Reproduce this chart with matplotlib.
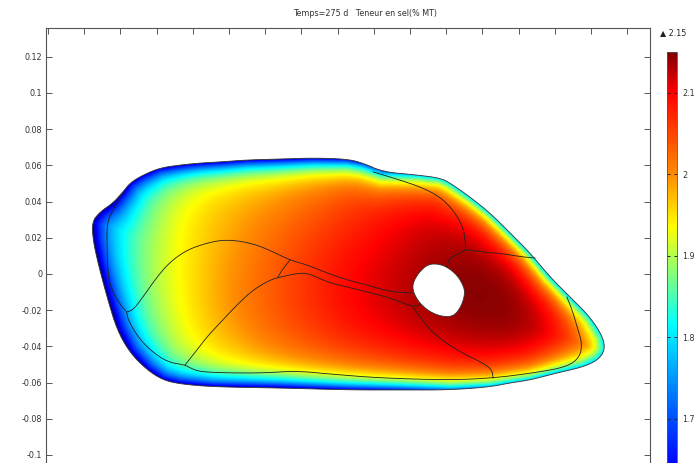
import numpy as np
import matplotlib.pyplot as plt
from matplotlib.path import Path
from matplotlib.patches import PathPatch
from matplotlib.colors import LinearSegmentedColormap, Normalize
from matplotlib.ticker import FuncFormatter, MultipleLocator

# outer contour of the ham cross-section (m), with surface salt content (% MT)
outer_x = [0.0243, 0.0287, 0.0359, 0.0414, 0.0453, 0.0525, 0.0619, 0.0729, 0.0840, 0.0950,
           0.1099, 0.1282, 0.1464, 0.1652, 0.1740, 0.1851, 0.2039, 0.2166, 0.2221, 0.2332,
           0.2442, 0.2553, 0.2663, 0.2774, 0.2884, 0.2995, 0.3066, 0.3077, 0.3039, 0.2956,
           0.2812, 0.2663, 0.2553, 0.2442, 0.2221, 0.1945, 0.1669, 0.1282, 0.0912, 0.0729,
           0.0635, 0.0547, 0.0453, 0.0381, 0.0326, 0.0276, 0.0249]
outer_y = [0.0287, 0.0343, 0.0392, 0.0453, 0.0503, 0.0547, 0.0586, 0.0602, 0.0613, 0.0619,
           0.0630, 0.0635, 0.0641, 0.0635, 0.0613, 0.0564, 0.0547, 0.0530, 0.0503, 0.0425,
           0.0337, 0.0227, 0.0116, -0.0017, -0.0127, -0.0238, -0.0348, -0.0420, -0.0475, -0.0514,
           -0.0547, -0.0586, -0.0602, -0.0624, -0.0641, -0.0641, -0.0641, -0.0630, -0.0624, -0.0608,
           -0.0586, -0.0530, -0.0436, -0.0309, -0.0127, 0.0061, 0.0188]
surface_salt = [1.56, 1.57, 1.58, 1.59, 1.60, 1.60, 1.60, 1.60, 1.60, 1.60,
                1.60, 1.60, 1.60, 1.62, 1.66, 1.72, 1.77, 1.78, 1.78, 1.78,
                1.78, 1.78, 1.78, 1.78, 1.78, 1.78, 1.78, 1.78, 1.78, 1.78,
                1.78, 1.78, 1.78, 1.76, 1.72, 1.66, 1.62, 1.60, 1.60, 1.60,
                1.60, 1.59, 1.58, 1.56, 1.56, 1.56, 1.56]

# bone (hole)
hole_x = [0.2155, 0.2204, 0.2260, 0.2293, 0.2304, 0.2287, 0.2249, 0.2204, 0.2149, 0.2094,
          0.2039, 0.2011, 0.2028, 0.2072, 0.2111]
hole_y = [0.0055, 0.0039, -0.0006, -0.0061, -0.0105, -0.0171, -0.0227, -0.0238, -0.0227, -0.0199,
          -0.0144, -0.0077, -0.0022, 0.0033, 0.0055]

# muscle boundaries
rim_x = [0.0414, 0.0359, 0.0326, 0.0326, 0.0332, 0.0359, 0.0409, 0.0436, 0.0442, 0.0497,
         0.0564, 0.0657, 0.0757, 0.0785, 0.0840, 0.1006, 0.1188, 0.1376, 0.1558, 0.1834,
         0.2221, 0.2459, 0.2680, 0.2867, 0.2939, 0.2950, 0.2928, 0.2901, 0.2867]
rim_y = [0.0448, 0.0354, 0.0282, 0.0149, -0.0017, -0.0105, -0.0182, -0.0210, -0.0254, -0.0348,
         -0.0420, -0.0486, -0.0503, -0.0519, -0.0541, -0.0547, -0.0547, -0.0536, -0.0553, -0.0575,
         -0.0586, -0.0575, -0.0547, -0.0514, -0.0459, -0.0381, -0.0309, -0.0215, -0.0127]
upper_x = [0.0436, 0.0470, 0.0525, 0.0602, 0.0674, 0.0768, 0.0878, 0.0967, 0.1061, 0.1155,
           0.1243, 0.1337, 0.1431, 0.1541, 0.1652, 0.1762, 0.1890, 0.2011]
upper_y = [-0.0210, -0.0199, -0.0127, -0.0017, 0.0066, 0.0133, 0.0171, 0.0188, 0.0182, 0.0160,
           0.0122, 0.0077, 0.0050, 0.0006, -0.0033, -0.0061, -0.0099, -0.0105]
lower_x = [0.0757, 0.0823, 0.0878, 0.0950, 0.1044, 0.1133, 0.1227, 0.1282, 0.1392, 0.1448,
           0.1541, 0.1652, 0.1762, 0.1890, 0.2017, 0.2055]
lower_y = [-0.0503, -0.0420, -0.0348, -0.0271, -0.0171, -0.0088, -0.0033, -0.0017, 0.0006, 0.0,
           -0.0044, -0.0072, -0.0099, -0.0133, -0.0182, -0.0171]
knee_x = [0.2017, 0.2066, 0.2149, 0.2276, 0.2403, 0.2453, 0.2459]
knee_y = [-0.0182, -0.0254, -0.0348, -0.0431, -0.0492, -0.0530, -0.0575]
link_x = [0.1337, 0.1293, 0.1271]
link_y = [0.0077, 0.0022, -0.0017]
top_x = [0.1796, 0.1945, 0.2072, 0.2166, 0.2238, 0.2293, 0.2304, 0.2309]
top_y = [0.0564, 0.0519, 0.0475, 0.0425, 0.0354, 0.0260, 0.0188, 0.0133]
right_x = [0.2309, 0.2403, 0.2514, 0.2624, 0.2691]
right_y = [0.0133, 0.0122, 0.0111, 0.0094, 0.0088]
bone_x = [0.2309, 0.2221, 0.2210, 0.2204]
bone_y = [0.0133, 0.0088, 0.0061, 0.0039]

# salt content read inside the section (% MT) on a coarse grid
anchor_x = [0.0343, 0.0564, 0.0785, 0.1006, 0.1227, 0.1448, 0.1669, 0.1890, 0.2111, 0.2332,
            0.2553, 0.2774, 0.2995]
anchor_y = [0.0630, 0.0464, 0.0298, 0.0133, -0.0033, -0.0199, -0.0365, -0.0530, -0.0669]
salt_grid = [
    [1.75, 1.85, 1.92, 1.94, 1.96, 1.98, 2.00, 2.02, 2.03, 2.04, 2.05, 2.04, 2.02],
    [1.76, 1.87, 1.94, 1.97, 1.99, 2.02, 2.05, 2.07, 2.08, 2.08, 2.09, 2.08, 2.05],
    [1.78, 1.89, 1.95, 1.98, 2.01, 2.04, 2.07, 2.10, 2.12, 2.12, 2.12, 2.10, 2.06],
    [1.80, 1.90, 1.95, 1.99, 2.03, 2.06, 2.09, 2.11, 2.13, 2.14, 2.13, 2.11, 2.06],
    [1.80, 1.90, 1.95, 2.00, 2.03, 2.07, 2.10, 2.12, 2.14, 2.15, 2.15, 2.12, 2.05],
    [1.78, 1.89, 1.95, 2.00, 2.04, 2.07, 2.10, 2.12, 2.14, 2.15, 2.15, 2.13, 2.04],
    [1.75, 1.87, 1.94, 1.98, 2.02, 2.05, 2.08, 2.10, 2.12, 2.13, 2.14, 2.12, 2.02],
    [1.72, 1.84, 1.92, 1.96, 1.99, 2.02, 2.04, 2.06, 2.08, 2.10, 2.10, 2.08, 1.99],
    [1.70, 1.82, 1.89, 1.93, 1.96, 1.98, 2.00, 2.02, 2.04, 2.05, 2.05, 2.03, 1.96],
]
salt_max = 2.15

# colour scale
cmap = LinearSegmentedColormap.from_list("salt", [
    (0.0, (0.0, 0.0, 0.40)),
    (0.15, (0.0, 0.0, 1.0)),
    (0.25, (0.0, 0.30, 1.0)),
    (0.35, (0.0, 0.65, 1.0)),
    (0.442, (0.0, 1.0, 1.0)),
    (0.542, (0.5, 1.0, 0.5)),
    (0.642, (1.0, 1.0, 0.0)),
    (0.75, (1.0, 0.55, 0.0)),
    (0.917, (1.0, 0.0, 0.0)),
    (1.0, (0.5, 0.0, 0.0)),
])
norm = Normalize(vmin=1.55, vmax=2.15)


def chaikin(xs, ys, closed, n=2):
    p = np.column_stack([xs, ys])
    for _ in range(n):
        q = np.roll(p, -1, axis=0) if closed else p[1:]
        a = p if closed else p[:-1]
        new = np.empty((2 * len(a), 2))
        new[0::2] = 0.75 * a + 0.25 * q
        new[1::2] = 0.25 * a + 0.75 * q
        if not closed:
            new = np.vstack([p[:1], new, p[-1:]])
        p = new
    return p[:, 0], p[:, 1]


# field on a fine grid
gx = np.arange(0.018, 0.316, 0.0004)
gy = np.arange(-0.070, 0.070, 0.0004)
X, Y = np.meshgrid(gx, gy)
num = np.zeros_like(X)
den = np.zeros_like(X)
sig = 0.013
for j, ay in enumerate(anchor_y):
    for i, axx in enumerate(anchor_x):
        w = np.exp(-((X - axx) ** 2 + (Y - ay) ** 2) / (2 * sig ** 2))
        num += w * salt_grid[j][i]
        den += w
inner = num / den

ox = np.array(outer_x + [outer_x[0]])
oy = np.array(outer_y + [outer_y[0]])
sv = np.array(surface_salt + [surface_salt[0]])
dmin = np.full(X.shape, np.inf)
ssurf = np.zeros_like(X)
for k in range(len(ox) - 1):
    dx, dy = ox[k + 1] - ox[k], oy[k + 1] - oy[k]
    t = np.clip(((X - ox[k]) * dx + (Y - oy[k]) * dy) / (dx * dx + dy * dy), 0, 1)
    d = np.hypot(X - ox[k] - t * dx, Y - oy[k] - t * dy)
    m = d < dmin
    dmin[m] = d[m]
    ssurf[m] = (sv[k] * (1 - t) + sv[k + 1] * t)[m]
L = 0.006
field = inner + (ssurf - inner) * np.exp(-dmin / L)

fig = plt.figure(figsize=(6.97, 4.63), dpi=100)
ax = fig.add_axes([0.0667, -0.0799, 0.8659, 1.0194])
ax.set_xlim(-0.00083, 0.3326)
ax.set_ylim(-0.1249, 0.1359)

h = 0.0002
im = ax.imshow(field, extent=[gx[0] - h, gx[-1] + h, gy[0] - h, gy[-1] + h], origin='lower',
               cmap=cmap, norm=norm, interpolation='bilinear', aspect='auto')
sx, sy = chaikin(outer_x, outer_y, True)
verts = list(zip(sx, sy)) + [(sx[0], sy[0])]
codes = [Path.MOVETO] + [Path.LINETO] * (len(sx) - 1) + [Path.CLOSEPOLY]
hx, hy = chaikin(hole_x[::-1], hole_y[::-1], True)
verts += list(zip(hx, hy)) + [(hx[0], hy[0])]
codes += [Path.MOVETO] + [Path.LINETO] * (len(hx) - 1) + [Path.CLOSEPOLY]
patch = PathPatch(Path(verts, codes), facecolor='none', edgecolor='#333333', lw=0.6)
ax.add_patch(patch)
im.set_clip_path(patch)

for lx, ly in [(rim_x, rim_y), (upper_x, upper_y), (lower_x, lower_y), (knee_x, knee_y),
               (link_x, link_y), (top_x, top_y), (right_x, right_y), (bone_x, bone_y)]:
    cx, cy = chaikin(lx, ly, False)
    ax.plot(cx, cy, color='#222222', lw=0.6)

for s in ax.spines.values():
    s.set_color('#555555')
    s.set_linewidth(0.8)
ax.xaxis.set_major_locator(MultipleLocator(0.02))
ax.yaxis.set_major_locator(MultipleLocator(0.02))
ax.yaxis.set_major_formatter(FuncFormatter(lambda v, p: f"{round(v, 2):g}"))
ax.tick_params(direction='in', length=4, width=0.7, color='#555555', top=True, right=True,
               labelbottom=False, labelsize=5.8, labelcolor='#333333', pad=3)

fig.text(365 / 697, 1 - 13 / 463, "Temps=275 d   Teneur en sel(% MT)", ha='center', va='center',
         fontsize=5.8, color='#333333')

cax = fig.add_axes([667 / 697, -0.169, 10 / 697, 1.0573])
cb = fig.colorbar(im, cax=cax)
cb.set_ticks([1.7, 1.8, 1.9, 2.0, 2.1])
cb.set_ticklabels(["1.7", "1.8", "1.9", "2", "2.1"])
cb.outline.set_edgecolor('#555555')
cb.outline.set_linewidth(0.6)
cax.tick_params(direction='in', length=2, width=0.7, color='#222222', left=True, right=True,
                labelsize=5.8, labelcolor='#333333', pad=4)
fig.text(660 / 697, 1 - 33 / 463, "\u25b2 " + f"{salt_max:g}", ha='left', va='center',
         fontsize=5.8, color='#222222')

fig.savefig("out.png", dpi=100)
